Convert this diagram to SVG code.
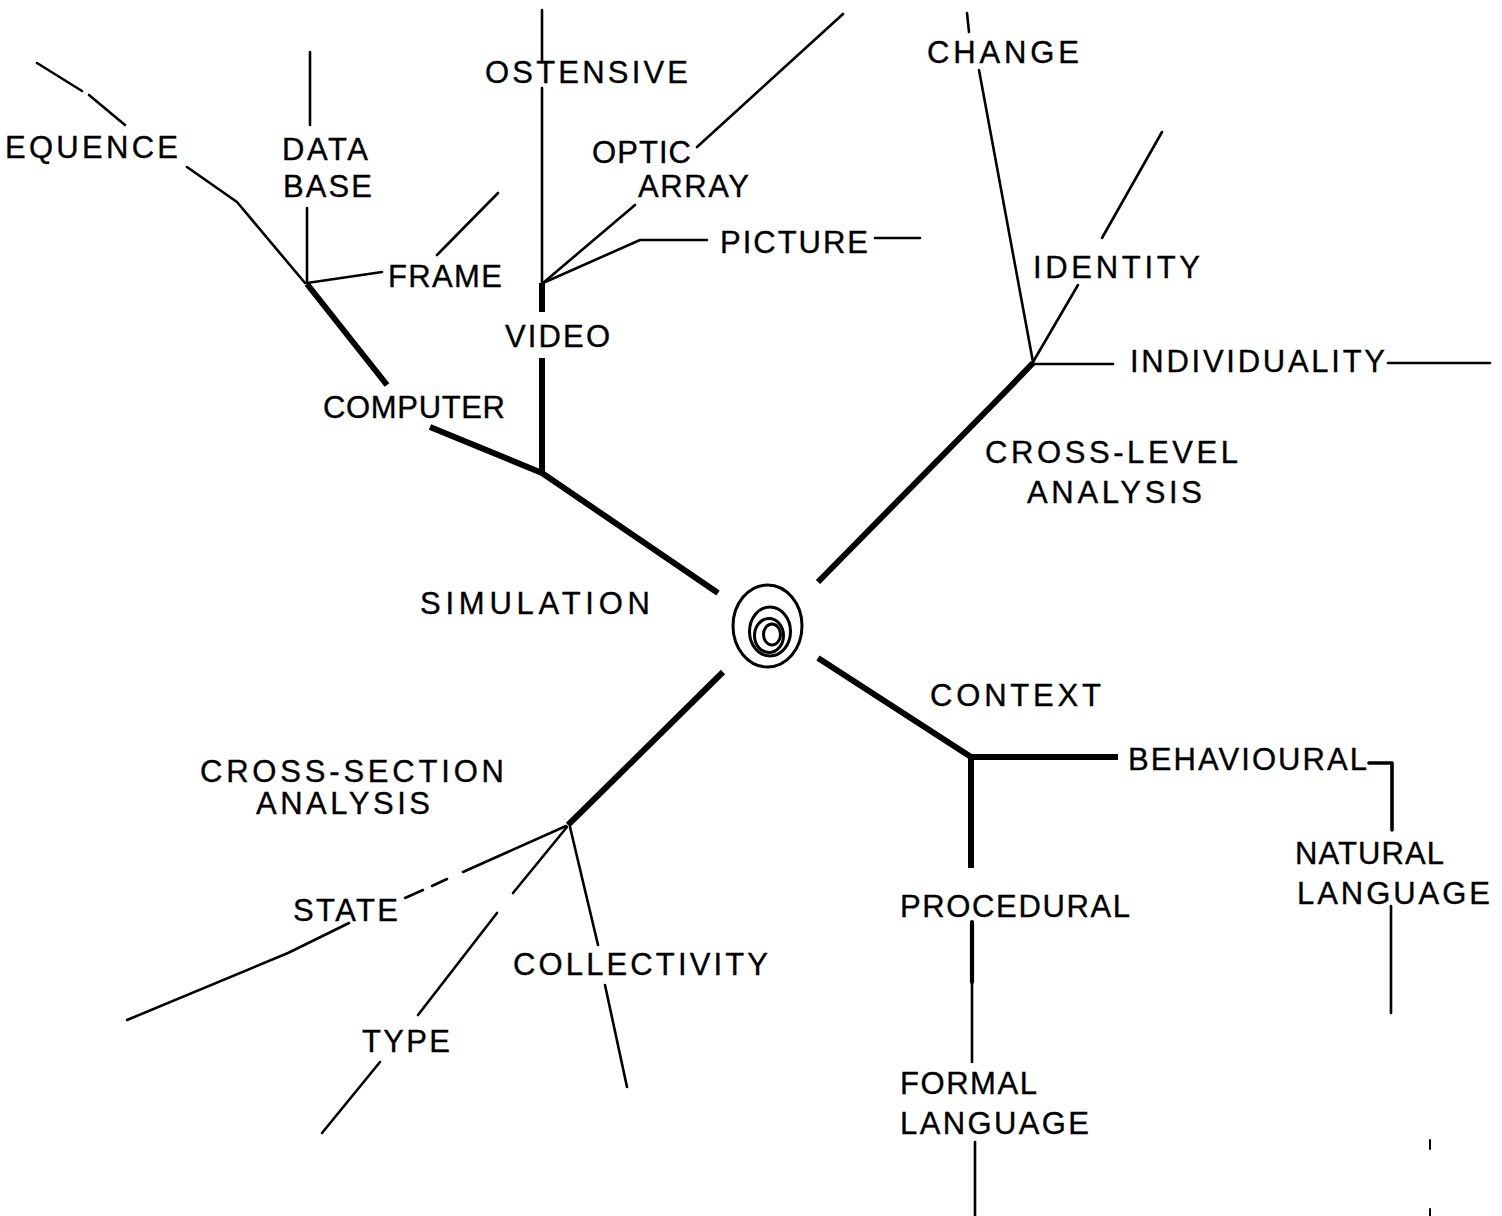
<svg xmlns="http://www.w3.org/2000/svg" width="1502" height="1216" viewBox="0 0 1502 1216">
<style>
  .bg { fill: #ffffff; }
  .t { font-family: "Liberation Sans", Arial, sans-serif; font-size: 31px; fill: #000; stroke: #000; stroke-width: 0.35; }
  .thin { stroke: #000; stroke-width: 2.6; fill: none; stroke-linecap: round; stroke-linejoin: round; }
  .thick { stroke: #000; stroke-width: 6; fill: none; stroke-linecap: butt; stroke-linejoin: round; }
  .ring { stroke: #000; stroke-width: 3; fill: none; }
</style>
<rect class="bg" x="0" y="0" width="1502" height="1216"/>

<g id="connectors">
  <!-- upper-left main branch -->
  <polyline class="thick" points="718,593 542,473"/>
  <polyline class="thick" points="542,473 430,427"/>
  <line class="thick" x1="542" y1="473" x2="542" y2="358"/>
  <line class="thick" x1="542" y1="312" x2="542" y2="283"/>
  <line class="thick" x1="387" y1="385" x2="307" y2="284"/>
  <!-- data base / sequence / frame -->
  <line class="thin" x1="37" y1="63" x2="82" y2="91"/>
  <line class="thin" x1="89" y1="95" x2="125" y2="125"/>
  <polyline class="thin" points="187,167 237,202 305,283"/>
  <line class="thin" x1="310" y1="52" x2="310" y2="125"/>
  <line class="thin" x1="307" y1="208" x2="307" y2="283"/>
  <line class="thin" x1="307" y1="283" x2="382" y2="272"/>
  <line class="thin" x1="437" y1="255" x2="498" y2="193"/>
  <!-- ostensive / optic / picture -->
  <line class="thin" x1="542" y1="10" x2="542" y2="62"/>
  <line class="thin" x1="542" y1="88" x2="542" y2="283"/>
  <line class="thin" x1="697" y1="147" x2="843" y2="14"/>
  <line class="thin" x1="543" y1="283" x2="635" y2="205"/>
  <polyline class="thin" points="543,283 640,240 707,240"/>
  <line class="thin" x1="875" y1="238" x2="920" y2="238"/>

  <!-- upper-right main branch -->
  <polyline class="thick" points="818,582 1007,390 1033,363"/>
  <line class="thin" x1="967" y1="13" x2="969" y2="32"/>
  <line class="thin" x1="979" y1="70" x2="1033" y2="362"/>
  <line class="thin" x1="1162" y1="132" x2="1102" y2="238"/>
  <line class="thin" x1="1078" y1="285" x2="1033" y2="362"/>
  <line class="thin" x1="1033" y1="364" x2="1113" y2="364"/>
  <line class="thin" x1="1388" y1="363" x2="1490" y2="363"/>

  <!-- lower-left main branch -->
  <line class="thick" x1="723" y1="672" x2="568" y2="825"/>
  <line class="thin" x1="566" y1="826" x2="463" y2="872"/>
  <line class="thin" x1="447" y1="879" x2="432" y2="886"/>
  <line class="thin" x1="423" y1="890" x2="405" y2="898"/>
  <polyline class="thin" points="349,923 288,953 127,1020"/>
  <line class="thin" x1="567" y1="827" x2="513" y2="893"/>
  <line class="thin" x1="497" y1="913" x2="418" y2="1015"/>
  <line class="thin" x1="380" y1="1062" x2="322" y2="1133"/>
  <line class="thin" x1="570" y1="827" x2="598" y2="945"/>
  <line class="thin" x1="605" y1="985" x2="627" y2="1087"/>

  <!-- lower-right main branch -->
  <polyline class="thick" points="818,658 971,757 1118,757"/>
  <line class="thick" x1="971" y1="757" x2="971" y2="868"/>
  <polyline class="thin" points="1369,763 1392,763 1392,830" style="stroke-width:3.6"/>
  <line class="thin" x1="1391" y1="906" x2="1391" y2="1013"/>
  <line class="thin" x1="972" y1="922" x2="972" y2="982" style="stroke-width:4.2"/>
  <line class="thin" x1="972" y1="982" x2="972" y2="1062"/>
  <line class="thin" x1="975" y1="1142" x2="975" y2="1216"/>
  <line class="thin" x1="1430" y1="1140" x2="1430" y2="1149" style="stroke-width:2"/>
  <line class="thin" x1="1430" y1="1209" x2="1430" y2="1216" style="stroke-width:2"/>
</g>

<g id="center">
  <ellipse class="ring" cx="767.5" cy="626" rx="34.5" ry="41"/>
  <ellipse class="ring" cx="770" cy="631.5" rx="20.5" ry="24.5"/>
  <ellipse class="ring" cx="769" cy="635.5" rx="14.5" ry="17"/>
  <ellipse class="ring" cx="772" cy="634.5" rx="8.5" ry="10.5"/>
</g>

<g id="n-sequence"><text class="t" x="5" y="158" textLength="173" lengthAdjust="spacing">EQUENCE</text></g>
<g id="n-database">
  <text class="t" x="282" y="160" textLength="86" lengthAdjust="spacing">DATA</text>
  <text class="t" x="283" y="197" textLength="89" lengthAdjust="spacing">BASE</text>
</g>
<g id="n-frame"><text class="t" x="388" y="287" textLength="114" lengthAdjust="spacing">FRAME</text></g>
<g id="n-computer"><text class="t" x="323" y="418" textLength="182" lengthAdjust="spacing">COMPUTER</text></g>
<g id="n-ostensive"><text class="t" x="485" y="83" textLength="203" lengthAdjust="spacing">OSTENSIVE</text></g>
<g id="n-optic-array">
  <text class="t" x="592" y="163" textLength="99" lengthAdjust="spacing">OPTIC</text>
  <text class="t" x="638" y="197" textLength="111" lengthAdjust="spacing">ARRAY</text>
</g>
<g id="n-picture"><text class="t" x="720" y="253" textLength="148" lengthAdjust="spacing">PICTURE</text></g>
<g id="n-video"><text class="t" x="505" y="347" textLength="105" lengthAdjust="spacing">VIDEO</text></g>
<g id="n-simulation"><text class="t" x="420" y="614" textLength="230" lengthAdjust="spacing">SIMULATION</text></g>

<g id="n-change"><text class="t" x="927" y="63" textLength="152" lengthAdjust="spacing">CHANGE</text></g>
<g id="n-identity"><text class="t" x="1033" y="278" textLength="167" lengthAdjust="spacing">IDENTITY</text></g>
<g id="n-individuality"><text class="t" x="1130" y="372" textLength="255" lengthAdjust="spacing">INDIVIDUALITY</text></g>
<g id="n-cross-level">
  <text class="t" x="985" y="463" textLength="253" lengthAdjust="spacing">CROSS-LEVEL</text>
  <text class="t" x="1027" y="503" textLength="175" lengthAdjust="spacing">ANALYSIS</text>
</g>

<g id="n-cross-section">
  <text class="t" x="200" y="782" textLength="304" lengthAdjust="spacing">CROSS-SECTION</text>
  <text class="t" x="256" y="814" textLength="174" lengthAdjust="spacing">ANALYSIS</text>
</g>
<g id="n-state"><text class="t" x="293" y="921" textLength="105" lengthAdjust="spacing">STATE</text></g>
<g id="n-type"><text class="t" x="362" y="1052" textLength="88" lengthAdjust="spacing">TYPE</text></g>
<g id="n-collectivity"><text class="t" x="513" y="975" textLength="255" lengthAdjust="spacing">COLLECTIVITY</text></g>

<g id="n-context"><text class="t" x="930" y="706" textLength="171" lengthAdjust="spacing">CONTEXT</text></g>
<g id="n-behavioural"><text class="t" x="1128" y="770" textLength="239" lengthAdjust="spacing">BEHAVIOURAL</text></g>
<g id="n-natural-language">
  <text class="t" x="1295" y="864" textLength="149" lengthAdjust="spacing">NATURAL</text>
  <text class="t" x="1297" y="904" textLength="193" lengthAdjust="spacing">LANGUAGE</text>
</g>
<g id="n-procedural"><text class="t" x="900" y="917" textLength="230" lengthAdjust="spacing">PROCEDURAL</text></g>
<g id="n-formal-language">
  <text class="t" x="900" y="1094" textLength="137" lengthAdjust="spacing">FORMAL</text>
  <text class="t" x="900" y="1134" textLength="189" lengthAdjust="spacing">LANGUAGE</text>
</g>
</svg>
